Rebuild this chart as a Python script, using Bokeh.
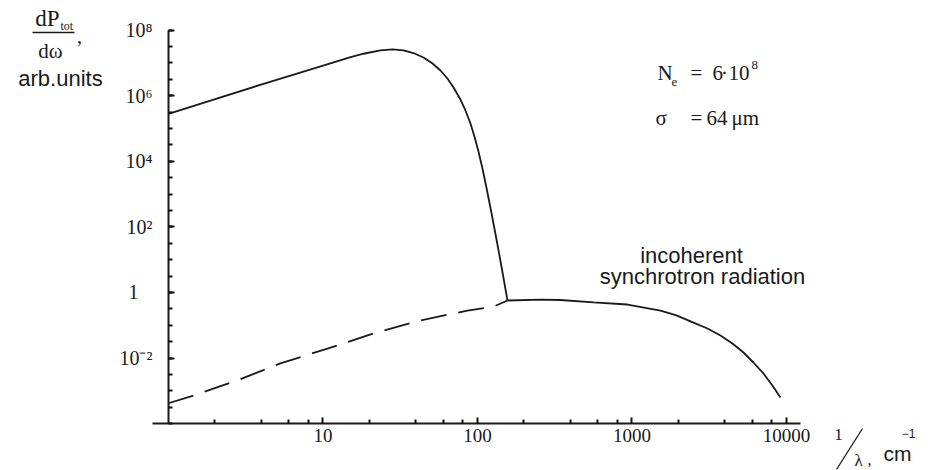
from bokeh.plotting import figure
from bokeh.models import FixedTicker, Label, Arrow
from bokeh.embed import file_html
from bokeh.resources import INLINE

# ---- data (x = 1/lambda in cm^-1, y = dP/domega, arb. units)
coh_x = [1, 4.12, 9.77, 15.1, 18.3, 23.5, 28.2, 33.2, 38.5, 44.7, 51.2, 57.6, 63.9, 70.0,
         77.6, 83.6, 90.1, 95.6, 101.5, 107.7, 114.3, 123.2, 132.8, 143.0, 156.4]
coh_y = [2.8e5, 2.3e6, 8.0e6, 1.5e7, 1.9e7, 2.4e7, 2.57e7, 2.39e7, 2.0e7, 1.46e7, 9.6e6,
         5.87e6, 3.34e6, 1.78e6, 7.65e5, 3.54e5, 1.42e5, 5.7e4, 1.99e4, 6.03e3, 1.59e3,
         265, 41.3, 6.2, 0.57]

inc_x = [156.4, 256, 344, 564, 935, 1530, 1941, 2500, 3080, 3740, 4470, 5270, 6110,
         7100, 8110, 9140]
inc_y = [0.57, 0.61, 0.59, 0.50, 0.43, 0.28, 0.20, 0.12, 0.080, 0.049, 0.0279, 0.0148,
         0.00734, 0.0034, 0.00146, 0.00063]

dash_x = [1, 1.45, 2.8, 5.3, 10.7, 21.2, 42.8, 86, 127, 156.4]
dash_y = [4.2e-4, 7.2e-4, 2.1e-3, 6.9e-3, 0.0195, 0.056, 0.141, 0.28, 0.37, 0.57]

x_ticks = [10, 100, 1000, 10000]
x_tick_labels = ["10", "100", "1000", "10000"]
x_minor = [2, 4, 6, 8, 20, 40, 60, 80, 200, 400, 600, 800, 2000, 4000, 6000, 8000]
y_ticks = [0.01, 1, 100, 10000, 1000000, 100000000]
y_tick_labels = ["10\u207b\u00b2", "1\u2002\u2009", "10\u00b2", "10\u2074", "10\u2076", "10\u2078"]
y_minor = [10 ** (k / 2) for k in range(-8, 17)]

INK = "#1a1a1a"
SERIF = "Liberation Serif"
SANS = "Liberation Sans"
W, H = 940, 470

# frame covers the whole canvas; the axes are pinned at x = 1 and y = 1e-4
p = figure(width=W, height=H, x_axis_type="log", y_axis_type="log",
           x_range=(0.0818, 99300), y_range=(3.74e-6, 7.98e8),
           output_backend="svg", toolbar_location=None,
           min_border_left=0, min_border_right=0, min_border_top=0, min_border_bottom=0)
p.outline_line_color = None
p.xgrid.visible = False
p.ygrid.visible = False
p.background_fill_color = "white"

p.line(coh_x, coh_y, line_color=INK, line_width=1.8)
p.line(inc_x, inc_y, line_color=INK, line_width=1.8)
p.line(dash_x, dash_y, line_color=INK, line_width=1.8, line_dash="26 12")

for ax in (p.xaxis[0], p.yaxis[0]):
    ax.axis_line_color = INK
    ax.axis_line_width = 2
    ax.major_tick_line_color = "#111111"
    ax.minor_tick_line_color = "#111111"
    ax.major_tick_line_width = 2
    ax.minor_tick_line_width = 2
    ax.major_tick_in = 6
    ax.major_tick_out = 0
    ax.minor_tick_in = 4
    ax.minor_tick_out = 0
    ax.major_label_text_font = SERIF
    ax.major_label_text_color = INK

p.xaxis.ticker = FixedTicker(ticks=x_ticks, minor_ticks=x_minor)
p.xaxis.major_label_overrides = dict(zip(x_ticks, x_tick_labels))
p.xaxis.major_label_text_font_size = "19px"
p.xaxis.major_label_standoff = 5
p.xaxis.bounds = (0.788, 12330)
p.xaxis.fixed_location = 1e-4

p.yaxis.ticker = FixedTicker(ticks=y_ticks, minor_ticks=y_minor)
p.yaxis.major_label_overrides = dict(zip(y_ticks, y_tick_labels))
p.yaxis.major_label_text_font_size = "20px"
p.yaxis.major_label_standoff = 16
p.yaxis.bounds = (1e-4, 1e8)
p.yaxis.fixed_location = 1


def put(text, px, py, size, font=SERIF, align="left", baseline="middle"):
    p.add_layout(Label(x=px, y=H - py, x_units="screen", y_units="screen",
                       text=text, text_font=font, text_font_size=f"{size}px",
                       text_align=align, text_baseline=baseline, text_color=INK))


def stroke(x0, y0, x1, y1, w=1.5):
    p.add_layout(Arrow(x_start=x0, y_start=H - y0, x_end=x1, y_end=H - y1,
                       start_units="screen", end_units="screen", end=None,
                       line_color=INK, line_width=w))


# y-axis title: dP_tot / domega , arb.units
put("dP", 47, 18, 23, align="center")
put("tot", 60, 25, 12)
stroke(32, 32, 74, 32, 1.3)
put("d\u03c9", 50, 50, 21, align="center")
put(",", 79, 35, 20, align="center")
put("arb.units", 60, 78, 22, font=SANS, align="center")

# x-axis title: 1/lambda, cm^-1
put("1", 838, 434, 17, align="center")
stroke(836, 469, 862, 428, 1.3)
put("\u03bb", 858, 460, 17, align="center")
put(",", 869, 459, 16, align="center")
put("cm", 897, 453, 21, font=SANS, align="center")
put("\u22121", 908, 433, 12, font=SANS, align="center")

# parameters
put("N", 657, 72, 21)
put("e", 671, 81, 13)
put("=", 690, 72, 21)
put("6", 712, 72, 21)
put("\u00b7", 724, 72, 21, align="center")
put("10", 728, 72, 21)
put("8", 751, 64, 13)
put("\u03c3", 655, 117, 21)
put("=", 690, 117, 21)
put("64", 706, 117, 21)
put("\u03bcm", 731, 117, 21)

# curve annotation
put("incoherent", 691, 255, 22, font=SANS, align="center")
put("synchrotron radiation", 702, 276, 22, font=SANS, align="center")

open("out.html", "w").write(file_html(p, INLINE))
